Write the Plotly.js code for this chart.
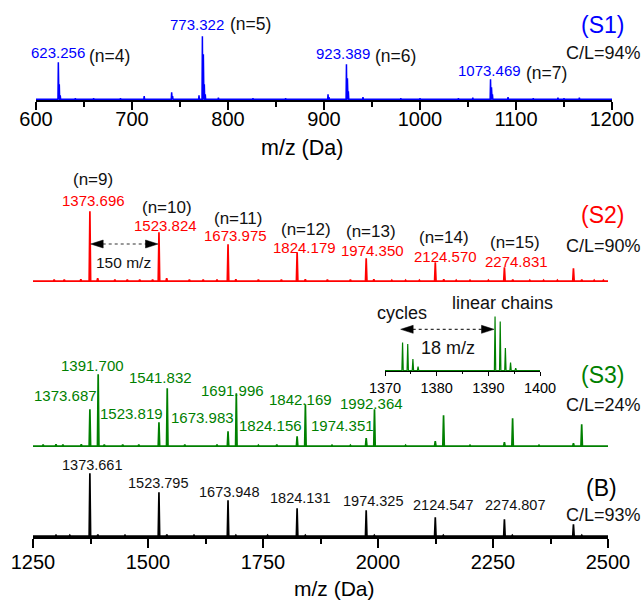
<!DOCTYPE html>
<html><head><meta charset="utf-8">
<script src="https://cdn.plot.ly/plotly-3.0.1.min.js"></script>
<style>html,body{margin:0;padding:0;background:#fff}#chart{width:643px;height:601px}</style>
</head><body><div id="chart"></div>
<script>
// ================= DATA =================
// (S1) low-mass spectrum, m/z 600-1200 : peak m/z and relative intensity
const s1Mz  = [623.256, 624.26, 625.26, 641, 660, 688, 712.7, 741.3, 742.3, 769.8, 773.322, 774.33, 775.33, 776.33, 790, 826, 860, 904.2, 905.2, 923.389, 924.39, 925.39, 940.6, 980, 1000, 1040, 1055, 1073.469, 1074.47, 1075.47, 1091.7, 1118, 1143.7, 1150, 1166];
const s1Int = [37, 15, 4, 1, 1, 1, 3, 7, 3, 4, 63, 45, 15, 5, 1.5, 1, 1, 5, 2, 35, 21, 8, 2, 1, 1, 1, 1.5, 20, 12, 5, 2, 1, 1.5, 1, 1.5];

// (S2) m/z 1250-2500
const s2Mz  = [1296, 1318, 1354, 1373.696, 1390.6, 1428, 1455, 1482, 1510, 1523.824, 1540.6, 1590, 1620, 1650, 1673.975, 1691, 1740, 1790, 1824.179, 1842, 1890, 1940, 1974.35, 1991, 2030, 2060, 2090, 2124.57, 2143, 2170, 2200, 2240, 2274.831, 2293, 2330, 2360, 2390, 2424.9, 2443, 2470, 2490];
const s2Int = [1.5, 1.5, 2, 70, 3, 1.5, 1.5, 1.5, 1.5, 49, 3, 1.5, 1.5, 1.5, 37, 2, 1.5, 1.5, 29, 2, 1.5, 1.5, 23, 2, 1, 1, 1, 19, 2, 1, 1, 1, 14, 1.5, 1, 1, 1, 13, 1.5, 1, 1];

// (S3) m/z 1250-2500
const s3Mz  = [1272, 1300, 1315, 1355, 1373.687, 1391.7, 1405, 1445, 1480, 1523.819, 1541.832, 1580, 1650, 1673.983, 1691.996, 1740, 1780, 1824.156, 1842.169, 1900, 1940, 1974.351, 1992.364, 2060, 2124.5, 2142.5, 2200, 2274.8, 2292.6, 2350, 2424.9, 2442.8];
const s3Int = [1.5, 2, 1.5, 2, 37, 72, 1.5, 1.5, 1.5, 24, 58, 1.5, 1.5, 15, 53, 1, 1.5, 10, 42, 1, 1, 8, 37, 1, 5, 31, 1, 4, 28, 1, 3, 22];

// (B) m/z 1250-2500
const bMz  = [1300, 1330, 1373.661, 1391, 1450, 1523.795, 1541, 1600, 1673.948, 1691, 1760, 1824.131, 1842, 1974.325, 1992, 2124.547, 2142, 2274.807, 2292, 2424.9, 2443];
const bInt = [1, 1, 63, 1.5, 1, 44, 1.5, 1, 36, 1, 1, 28, 1, 26, 1, 19, 1, 17, 1, 12, 1];

// inset of (S3): m/z 1370-1400
const inMz  = [1373.4, 1374.4, 1375.4, 1376.4, 1391.3, 1392.3, 1393.3, 1394.3, 1395.3];
const inInt = [28, 26.4, 11.4, 4, 54, 49, 22.4, 8, 2.4];

// text
const s1PeakLabels = ['623.256', '773.322', '923.389', '1073.469'];
const s1Orders     = ['(n=4)', '(n=5)', '(n=6)', '(n=7)'];
const s2PeakLabels = ['1373.696', '1523.824', '1673.975', '1824.179', '1974.350', '2124.570', '2274.831'];
const s2Orders     = ['(n=9)', '(n=10)', '(n=11)', '(n=12)', '(n=13)', '(n=14)', '(n=15)'];
const s3PeakLabels = ['1373.687', '1391.700', '1523.819', '1541.832', '1673.983', '1691.996', '1824.156', '1842.169', '1974.351', '1992.364'];
const bPeakLabels  = ['1373.661', '1523.795', '1673.948', '1824.131', '1974.325', '2124.547', '2274.807'];
const panelNames   = ['(S1)', '(S2)', '(S3)', '(B)'];
const ratios       = ['C/L=94%', 'C/L=90%', 'C/L=24%', 'C/L=93%'];
const axisTitle    = 'm/z (Da)';
const insetTexts   = ['cycles', 'linear chains', '18 m/z'];
const spacingText  = '150 m/z';

// ================= RENDERING =================
const W = 643, H = 601;
const X = p => p / W;
const Y = p => 1 - p / H;
const FONT = 'Liberation Sans, Arial, Helvetica, sans-serif';
const BLUE = '#0000ff', RED = '#ff0000', GREEN = '#008000', BLACK = '#000000', TXT = '#111111';

function spectrum(mz, inten, hw, lo, hi) {
  const idx = mz.map((m, i) => i).sort((a, b) => mz[a] - mz[b]);
  const x = [lo], y = [0];
  idx.forEach(i => { x.push(mz[i] - hw, mz[i], mz[i] + hw); y.push(0, inten[i], 0); });
  x.push(hi); y.push(0);
  return { x, y };
}
function trace(sp, xa, ya, color, w) {
  return { type: 'scatter', mode: 'lines', x: sp.x, y: sp.y, xaxis: xa, yaxis: ya,
           line: { color, width: w, shape: 'linear' }, hoverinfo: 'skip', showlegend: false };
}

const data = [
  trace(spectrum(s1Mz, s1Int, 0.4, 600, 1200), 'x', 'y', BLUE, 1.5),
  trace(spectrum(s2Mz, s2Int, 1.6, 1250, 2500), 'x2', 'y2', RED, 1.7),
  trace(spectrum(s3Mz, s3Int, 1.6, 1250, 2500), 'x2', 'y3', GREEN, 1.7),
  trace(spectrum(bMz, bInt, 1.6, 1250, 2500), 'x2', 'y4', BLACK, 1.7),
  trace(spectrum(inMz, inInt, 0.13, 1370, 1400), 'x3', 'y5', GREEN, 1.2)
];

function xa(domain, range, anchor, dtick, mdtick, o) {
  return Object.assign({
    domain, range, anchor, dtick, tick0: range[0], showgrid: false, zeroline: false,
    showline: true, linecolor: BLACK, linewidth: 1.5, ticks: 'outside', ticklen: 8, tickwidth: 1.5,
    tickcolor: BLACK, tickfont: { family: FONT, size: 20, color: BLACK }, layer: 'below traces',
    minor: { dtick: mdtick, ticks: 'outside', ticklen: 5, tickwidth: 1.5, tickcolor: BLACK, showgrid: false },
    fixedrange: true
  }, o || {});
}
function ya(domain, range, anchor) {
  return { domain, range, anchor, visible: false, fixedrange: true, showgrid: false, zeroline: false };
}

function txt(t, cx, cy, size, color) {
  return { text: t, x: X(cx), y: Y(cy), xref: 'paper', yref: 'paper', xanchor: 'center', yanchor: 'middle',
           showarrow: false, font: { family: FONT, size, color } };
}

const ann = [];
// S1
[[57.5, 52], [196.7, 25], [343, 53.5], [489, 70.5]].forEach((p, i) => ann.push(txt(s1PeakLabels[i], p[0], p[1], 15, BLUE)));
[[110, 55.5], [250.5, 24.5], [395.5, 56], [546, 72.5]].forEach((p, i) => ann.push(txt(s1Orders[i], p[0], p[1], 17.5, TXT)));
// S2
[[93, 200.7], [165, 225], [235.5, 235.3], [304, 247.3], [372.8, 250], [445, 256], [516.7, 261]].forEach((p, i) => ann.push(txt(s2PeakLabels[i], p[0], p[1], 15, RED)));
[[93, 180], [167, 207.7], [238, 218.5], [306, 229], [370.7, 231.7], [443.7, 237.7], [515, 242.3]].forEach((p, i) => ann.push(txt(s2Orders[i], p[0], p[1], 17, TXT)));
// S3
[[65.8, 395.3], [92.5, 365], [131.7, 413.3], [160.3, 377.3], [202, 417.7], [232.2, 390], [270.5, 425], [300, 399.3], [342, 425], [371.7, 403.3]].forEach((p, i) => ann.push(txt(s3PeakLabels[i], p[0], p[1], 15, GREEN)));
// B
[[91.7, 465], [158, 482.7], [229.3, 491.7], [300, 498.3], [373, 501], [443, 505], [515, 505]].forEach((p, i) => ann.push(txt(bPeakLabels[i], p[0], p[1], 14.5, TXT)));
// panel names and ratios
const nameColors = [BLUE, RED, GREEN, BLACK];
[[602, 25], [602, 215], [602, 375], [601.7, 488.3]].forEach((p, i) => ann.push(txt(panelNames[i], p[0], p[1], 23, nameColors[i])));
[[603.5, 53], [603.7, 245.7], [603.7, 405], [603, 515]].forEach((p, i) => ann.push(txt(ratios[i], p[0], p[1], 18, TXT)));
// axis titles
ann.push(txt(axisTitle, 301.5, 147.5, 21.5, BLACK));
ann.push(txt(axisTitle, 334, 588.5, 21, BLACK));
// inset texts
ann.push(txt(insetTexts[0], 401.7, 312.7, 18, TXT));
ann.push(txt(insetTexts[1], 502.2, 303.3, 18, TXT));
ann.push(txt(insetTexts[2], 448, 348.3, 18, TXT));
ann.push(txt(spacingText, 123.3, 262.7, 15.5, TXT));

// double-headed dotted arrows
function arrow(xl, xr, yp) {
  const head = (x, path) => ({ type: 'path', xref: 'paper', yref: 'paper', xsizemode: 'pixel', ysizemode: 'pixel',
    xanchor: X(x), yanchor: Y(yp), path, fillcolor: BLACK, line: { color: BLACK, width: 0.5 } });
  return [
    { type: 'line', xref: 'paper', yref: 'paper', x0: X(xl + 12), x1: X(xr - 12), y0: Y(yp), y1: Y(yp),
      line: { color: '#333', width: 1.2, dash: 'dot' } },
    head(xl, 'M0,0 L12.5,4 L12.5,-4 Z'),
    head(xr, 'M0,0 L-12.5,4 L-12.5,-4 Z')
  ];
}
const shapes = [].concat(arrow(90.7, 158, 244), arrow(400.7, 494, 329.3));

const layout = {
  width: W, height: H, margin: { l: 0, r: 0, t: 0, b: 0 },
  paper_bgcolor: '#ffffff', plot_bgcolor: 'rgba(0,0,0,0)', showlegend: false,
  font: { family: FONT, color: BLACK },
  xaxis:  xa([X(36), X(612)], [600, 1200], 'y', 100, 50, { ticklabelstandoff: -8 }),
  xaxis2: xa([X(33), X(608)], [1250, 2500], 'y4', 250, 125, { linewidth: 2, ticklen: 9, tickwidth: 2, ticklabelstandoff: -3,
          minor: { dtick: 125, ticks: 'outside', ticklen: 5, tickwidth: 2, tickcolor: BLACK, showgrid: false } }),
  xaxis3: xa([X(385), X(540)], [1370, 1400], 'y5', 10, 5, { linewidth: 1, ticklen: 4, tickwidth: 1,
          tickfont: { family: FONT, size: 14.5, color: BLACK },
          minor: { dtick: 5, ticks: 'outside', ticklen: 2, tickwidth: 1, tickcolor: BLACK, showgrid: false } }),
  yaxis:  ya([Y(100), Y(20)], [-0.8, 79.2], 'x'),
  yaxis2: ya([Y(282), Y(200)], [-0.8, 81.2], 'x2'),
  yaxis3: ya([Y(447), Y(365)], [-0.8, 81.2], 'x2'),
  yaxis4: ya([Y(537), Y(455)], [-0.8, 81.2], 'x2'),
  yaxis5: ya([Y(371), Y(305)], [-0.5, 65.5], 'x3'),
  annotations: ann,
  shapes
};

Plotly.newPlot('chart', data, layout, { displayModeBar: false, staticPlot: true });
</script>
</body></html>
